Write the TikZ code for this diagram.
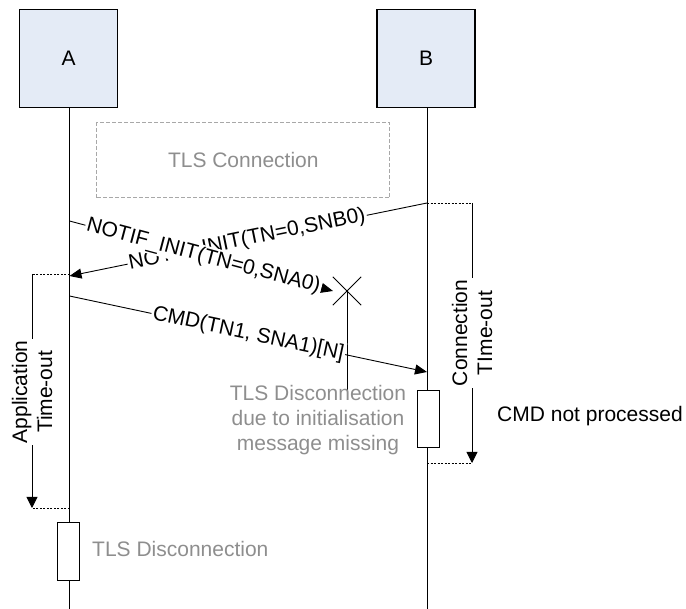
\documentclass[tikz,border=0pt]{standalone}
\usepackage{fontspec}
\setmainfont{Liberation Sans}
\usetikzlibrary{arrows.meta}
\definecolor{boxblue}{HTML}{E4EBF6}
\definecolor{txtgray}{HTML}{8E8E8E}
\definecolor{dashgray}{HTML}{A8A8A8}
\begin{document}
\begin{tikzpicture}[x=1pt,y=-1pt,
  every node/.style={font=\fontsize{21}{25}\selectfont},
  actor/.style={draw, line width=1.2pt, fill=boxblue, minimum width=98pt, minimum height=98pt, inner sep=0},
  life/.style={line width=0.9pt},
  msg/.style={line width=0.9pt, -{Triangle[length=12pt,width=10pt]}},
  msglabel/.style={fill=white, inner sep=1.5pt, sloped},
  actbox/.style={draw, line width=1pt, fill=white, minimum width=22pt, minimum height=57pt, inner sep=0},
  tick/.style={line width=0.8pt, dash pattern=on 2pt off 1.5pt},
  timer/.style={line width=0.9pt, -{Triangle[length=11pt,width=11pt]}},
  timerlabel/.style={fill=white, inner sep=1.5pt, rotate=90, align=center},
  graytxt/.style={text=txtgray, align=center, inner sep=0},
]
\useasboundingbox (0,0) rectangle (686,609);

% actors
\node[actor] (A) at (68.7,58.3) {A};
\node[actor] (B) at (426,58.3) {B};
\coordinate (Aend) at (69.5,609);
\coordinate (Bend) at (427,609);
\draw[life] (69.5,107.3) -- (Aend);
\draw[life] (427,107.3) -- (Bend);

% TLS connection
\node[draw=dashgray, line width=0.8pt, dash pattern=on 4pt off 2pt, minimum width=293pt, minimum height=75pt, text=txtgray] (tlsc) at (243.3,160.3) {TLS Connection};

% message B -> A
\coordinate (b1) at (427,203);
\coordinate (a1) at (69.5,276);
\draw[msg] (b1) -- node[msglabel, pos=0.503] (m1) {NOTIF\_INIT(TN=0,SNB0)} (a1);

% message A -> X
\coordinate (a2) at (69.5,221);
\coordinate (xl) at (333,291);
\draw[msg] (a2) -- node[msglabel, pos=0.508] (m2) {NOTIF\_INIT(TN=0,SNA0)} (xl);

% lost message cross
\node[minimum size=28pt, inner sep=0] (xmark) at (347,291) {};
\draw[line width=0.9pt] (xmark.north west) -- (xmark.south east);
\draw[line width=0.9pt] (xmark.south west) -- (xmark.north east);
\coordinate (xend) at (347,392);
\draw[life] (xmark.center) -- (xend);

% CMD message
\coordinate (a3) at (69.5,296);
\coordinate (b3) at (427,372);
\draw[msg] (a3) -- node[msglabel, pos=0.5] (m3) {CMD(TN1, SNA1)[N]} (b3);

% activation boxes
\node[actbox] (actB) at (428,419.5) {};
\node[actbox] (actA) at (68,551.5) {};

% texts
\node[graytxt] (disc1) at (318,420) {TLS Disconnection\\due to initialisation\\message missing};
\node[graytxt, anchor=west] (disc2) at (92,549) {TLS Disconnection};
\node[inner sep=0, anchor=west] (cnp) at (497,416) {CMD not processed};

% connection time-out
\coordinate (ct1) at (472,203);
\coordinate (ct2) at (472,463);
\coordinate (b4) at (427,463);
\draw[tick] (b1) -- (ct1);
\draw[tick] (b4) -- (ct2);
\draw[timer] (ct1) -- node[timerlabel, pos=0.5] (ctl) {Connection\\TIme-out} (ct2);

% application time-out
\coordinate (aT) at (69.5,274);
\coordinate (at1) at (32,274);
\coordinate (ab) at (69.5,508);
\coordinate (at2) at (32,508);
\draw[tick] (aT) -- (at1);
\draw[tick] (ab) -- (at2);
\draw[timer] (at1) -- node[timerlabel, pos=0.504] (atl) {Application\\Time-out} (at2);
\end{tikzpicture}
\end{document}
